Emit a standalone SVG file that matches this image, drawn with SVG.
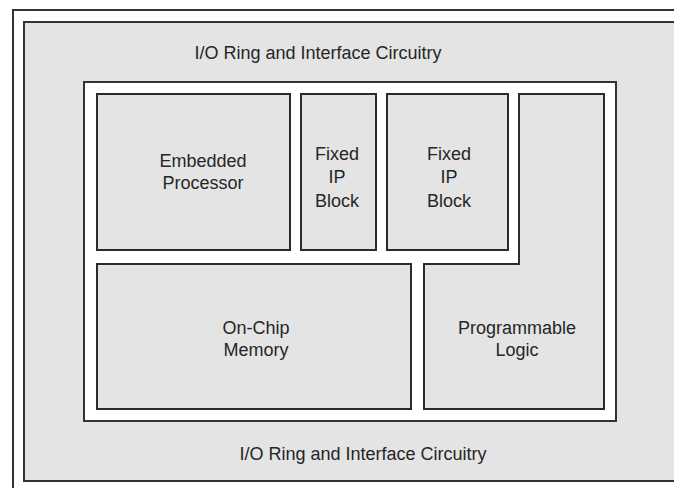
<svg xmlns="http://www.w3.org/2000/svg" width="674" height="488" viewBox="0 0 674 488">
  <style>
    .frame { fill: none; stroke: #333; stroke-width: 2; }
    .ring { fill: #e4e4e4; stroke: #333; stroke-width: 2; }
    .core { fill: #ffffff; stroke: #333; stroke-width: 2; }
    .block { fill: #e4e4e4; stroke: #2b2b2b; stroke-width: 2; }
    .label { font-family: "Liberation Sans", Arial, sans-serif; font-size: 18px; fill: #262626; text-anchor: middle; }
  </style>
  <rect width="674" height="488" fill="#ffffff"/>

  <!-- outer page frame -->
  <rect class="frame" x="13" y="10" width="700" height="500"/>

  <!-- I/O ring -->
  <g id="io-ring">
    <rect class="ring" x="24" y="22" width="690" height="459"/>
    <text class="label" x="318" y="59">I/O Ring and Interface Circuitry</text>
    <text class="label" x="363" y="460">I/O Ring and Interface Circuitry</text>
  </g>

  <!-- core area -->
  <g id="core">
    <rect class="core" x="84" y="82" width="532" height="339"/>
  </g>

  <g id="embedded-processor">
    <rect class="block" x="97" y="94" width="193" height="156"/>
    <text class="label" x="203" y="167">Embedded</text>
    <text class="label" x="203" y="189">Processor</text>
  </g>

  <g id="fixed-ip-1">
    <rect class="block" x="301" y="94" width="75" height="156"/>
    <text class="label" x="337" y="160">Fixed</text>
    <text class="label" x="337" y="183">IP</text>
    <text class="label" x="337" y="207">Block</text>
  </g>

  <g id="fixed-ip-2">
    <rect class="block" x="387" y="94" width="121" height="156"/>
    <text class="label" x="449" y="160">Fixed</text>
    <text class="label" x="449" y="183">IP</text>
    <text class="label" x="449" y="207">Block</text>
  </g>

  <g id="on-chip-memory">
    <rect class="block" x="97" y="264" width="314" height="145"/>
    <text class="label" x="256" y="334">On-Chip</text>
    <text class="label" x="256" y="356">Memory</text>
  </g>

  <g id="programmable-logic">
    <path class="block" d="M519,94 H604 V409 H424 V264 H519 Z"/>
    <text class="label" x="517" y="334">Programmable</text>
    <text class="label" x="517" y="356">Logic</text>
  </g>

  <g id="connectors"></g>
</svg>
